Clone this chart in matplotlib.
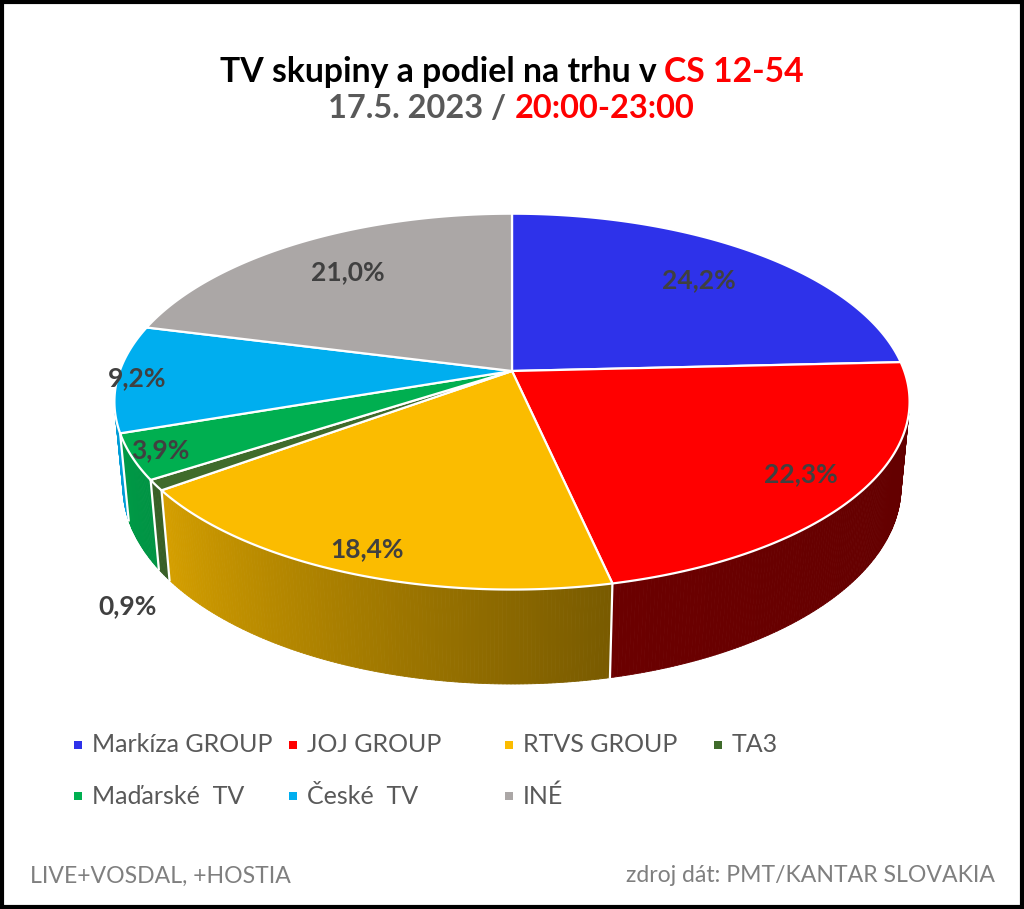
import numpy as np
import matplotlib
matplotlib.use("Agg")
import matplotlib.pyplot as plt
from matplotlib.patches import Polygon, Rectangle
from matplotlib.collections import PolyCollection
from matplotlib.colors import to_rgb

plt.rcParams['font.family'] = ['Lato', 'DejaVu Sans']

# data
groups = ['Markíza GROUP', 'JOJ GROUP', 'RTVS GROUP', 'TA3',
          'Maďarské  TV', 'České  TV', 'INÉ']
shares = [24.2, 22.3, 18.4, 0.9, 3.9, 9.2, 21.0]
colors = ['#2E32EA', '#FF0000', '#FBBC00', '#3F6B2B',
          '#00AF50', '#00AEEF', '#ABA7A6']
# side wall shading (factor at start angle, factor at end angle)
side_shade = [(0.9, 0.9), (0.38, 0.42), (0.48, 0.85), (0.88, 0.9),
              (0.84, 0.88), (0.9, 0.9), (0.8, 0.8)]
# label placement: radius, height (in wall thickness units)
label_pos = [(0.75, 0), (0.85, 0), (0.9, 0), (1.1, -1.2),
             (0.93, 0), (0.95, 0), (0.75, 0)]

W, H = 1024, 909
fig = plt.figure(figsize=(W / 100, H / 100), dpi=100)
ax = fig.add_axes([0, 0, 1, 1])
ax.set_xlim(0, W)
ax.set_ylim(H, 0)
ax.axis('off')

# --- simple perspective camera for the 3D pie ---
CX, CY = 512, 371
FOCAL = 2130
DIST = 5.43
ELEV = np.radians(27.8)
THICK = 0.247
ce, se = np.cos(ELEV), np.sin(ELEV)
cam = np.array([0, -DIST * ce, DIST * se])
fwd = np.array([0, ce, -se])
up = np.array([0, se, ce])


def project(x, y, z):
    v = np.stack([np.asarray(x, float) - cam[0],
                  np.asarray(y, float) - cam[1],
                  np.asarray(z, float) - cam[2]], axis=-1)
    depth = v @ fwd
    return CX + FOCAL * v[..., 0] / depth, CY - FOCAL * (v @ up) / depth


def rim(theta, z=0.0):
    t = np.radians(theta)
    return project(np.sin(t), np.cos(t), np.full_like(t, z))


total = sum(shares)
edges = np.concatenate([[0], np.cumsum(shares)]) / total * 360
front_limit = -1 / (DIST * ce)   # wall faces the camera where cos(theta) < this

# side walls
for i in range(len(shares)):
    t0, t1 = edges[i], edges[i + 1]
    n = max(int((t1 - t0) / 0.5), 2)
    ts = np.linspace(t0, t1, n + 1)
    polys, cols = [], []
    base = np.array(to_rgb(colors[i]))
    for a, b in zip(ts[:-1], ts[1:]):
        mid = np.radians((a + b) / 2)
        if np.cos(mid) >= front_limit:
            continue
        xt, yt = rim(np.array([a, b]))
        xb, yb = rim(np.array([b, a]), -THICK)
        polys.append(np.column_stack([np.r_[xt, xb], np.r_[yt, yb]]))
        frac = ((a + b) / 2 - t0) / (t1 - t0)
        k = side_shade[i][0] + (side_shade[i][1] - side_shade[i][0]) * frac
        cols.append(np.clip(base * k, 0, 1))
    if polys:
        ax.add_collection(PolyCollection(polys, facecolors=cols, edgecolors=cols,
                                         linewidths=0.6, zorder=2))

# seams between walls
for t in edges:
    if np.cos(np.radians(t)) < front_limit:
        xt, yt = rim(np.array([t]))
        xb, yb = rim(np.array([t]), -THICK)
        ax.plot([xt[0], xb[0]], [yt[0], yb[0]], color='white', lw=1.6, zorder=3)

# top faces
for i in range(len(shares)):
    ts = np.linspace(edges[i], edges[i + 1], 200)
    xs, ys = rim(ts)
    pts = np.column_stack([np.r_[CX, xs], np.r_[CY, ys]])
    ax.add_patch(Polygon(pts, closed=True, facecolor=colors[i],
                         edgecolor='white', lw=1.6, joinstyle='round', zorder=4))

# data labels
for i, v in enumerate(shares):
    mid = np.radians((edges[i] + edges[i + 1]) / 2)
    r, zf = label_pos[i]
    lx, ly = project(r * np.sin(mid), r * np.cos(mid), zf * THICK)
    ax.text(float(lx), float(ly), f"{v:.1f}".replace('.', ',') + '%',
            fontsize=19, fontweight='bold', color='#404040',
            ha='center', va='center', zorder=6)


# title lines with coloured parts
def rich_line(y, parts, target_w, size=20):
    texts = [ax.text(0, y, s, color=c, fontsize=size, fontweight='bold',
                     ha='left', va='center', zorder=6) for s, c in parts]
    fig.canvas.draw()
    rend = fig.canvas.get_renderer()
    widths = [t.get_window_extent(rend).width for t in texts]
    sp = ax.text(0, 0, 'a a', fontsize=size, fontweight='bold')
    sq = ax.text(0, 0, 'aa', fontsize=size, fontweight='bold')
    gap = sp.get_window_extent(rend).width - sq.get_window_extent(rend).width
    sp.remove()
    sq.remove()
    scale = target_w / (sum(widths) + gap * (len(parts) - 1))
    widths = [w * scale for w in widths]
    gap *= scale
    x = W / 2 - (sum(widths) + gap * (len(parts) - 1)) / 2
    for t, w in zip(texts, widths):
        t.set_fontsize(size * scale)
        t.set_x(x)
        x += w + gap


rich_line(72, [('TV skupiny a podiel na trhu v', 'black'), ('CS 12-54', '#FF0000')], 584)
rich_line(108, [('17.5. 2023 /', '#595959'), ('20:00-23:00', '#FF0000')], 367)

# legend
leg_x = [78, 293, 509, 718]
leg_y = [745, 796]
for i, g in enumerate(groups):
    x = leg_x[i % 4]
    y = leg_y[i // 4]
    ax.add_patch(Rectangle((x - 4, y - 4), 8, 8, facecolor=colors[i],
                           edgecolor='none', zorder=6))
    ax.text(x + 14, y, g, fontsize=18, color='#595959', ha='left',
            va='center', zorder=6)

# footer notes
ax.text(30, 876, 'LIVE+VOSDAL, +HOSTIA', fontsize=16.6, color='#7F7F7F',
        ha='left', va='center')
ax.text(995, 876, 'zdroj dát: PMT/KANTAR SLOVAKIA', fontsize=16.6,
        color='#7F7F7F', ha='right', va='center')

# frame
ax.add_patch(Rectangle((2, 2), W - 4, H - 4, facecolor='none',
                       edgecolor='black', lw=3, zorder=10))

fig.savefig('out.png', dpi=100)
